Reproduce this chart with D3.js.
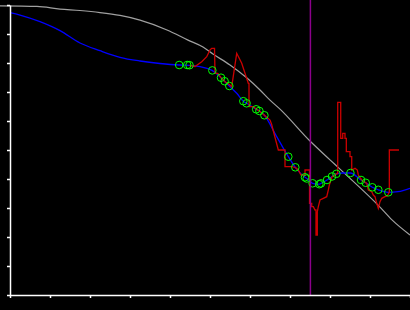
<!DOCTYPE html>
<html>
<head>
<meta charset="utf-8">
<script src="https://cdn.jsdelivr.net/npm/d3@7"></script>
<style>
  body { margin: 0; background: #000; }
  svg { display: block; }
</style>
</head>
<body>
<div id="chart"></div>
<script>
// reference curve (gray)
var grayX = [-0.25, 0.675, 1.25, 1.75, 2.25, 2.75, 3.25, 3.925, 4.45, 4.825, 5.075, 5.5, 5.925, 6.25, 6.5, 6.75, 7.5, 8.0, 8.25, 9.25, 9.55, 10.0]
var grayY = [9.97, 9.95, 9.86, 9.81, 9.74, 9.64, 9.48, 9.14, 8.79, 8.55, 8.31, 7.93, 7.48, 7.07, 6.72, 6.41, 5.31, 4.66, 4.34, 3.03, 2.59, 2.07]

// smoothed series (blue)
var blueX = [0, 0.25, 0.75, 1.25, 1.75, 2.25, 2.75, 3.25, 3.75, 4.225, 4.475, 4.75, 5.05, 5.275, 5.375, 5.483, 5.668, 5.833, 5.915, 6.16, 6.235, 6.36, 6.65, 6.958, 7.133, 7.375, 7.418, 7.565, 7.733, 7.773, 7.925, 8.05, 8.16, 8.325, 8.51, 8.775, 8.893, 9.058, 9.208, 9.458, 9.7, 10.0]
var blueY = [9.734, 9.655, 9.424, 9.114, 8.69, 8.424, 8.197, 8.069, 7.983, 7.931, 7.921, 7.872, 7.745, 7.493, 7.355, 7.207, 6.955, 6.683, 6.61, 6.403, 6.345, 6.197, 5.503, 4.769, 4.403, 4.059, 4.017, 3.852, 3.821, 3.848, 3.966, 4.086, 4.179, 4.207, 4.207, 3.966, 3.869, 3.714, 3.628, 3.541, 3.562, 3.679]

// raw series (red)
var redX = [4.488, 4.625, 4.793, 4.918, 5.0, 5.043, 5.113, 5.125, 5.2, 5.275, 5.375, 5.483, 5.543, 5.668, 5.793, 5.875, 5.958, 5.975, 5.975, 6.083, 6.16, 6.235, 6.36, 6.5, 6.538, 6.708, 6.875, 6.875, 7.043, 7.133, 7.208, 7.275, 7.375, 7.375, 7.488, 7.488, 7.543, 7.543, 7.583, 7.625, 7.65, 7.65, 7.683, 7.683, 7.708, 7.75, 7.833, 7.918, 7.958, 7.983, 8.05, 8.16, 8.193, 8.193, 8.268, 8.268, 8.318, 8.318, 8.375, 8.375, 8.408, 8.408, 8.5, 8.5, 8.543, 8.543, 8.625, 8.683, 8.708, 8.793, 8.918, 8.958, 9.043, 9.083, 9.125, 9.168, 9.208, 9.25, 9.293, 9.375, 9.433, 9.483, 9.483, 9.725]
var redY = [7.921, 7.879, 8.045, 8.217, 8.448, 8.507, 8.507, 7.655, 7.638, 7.493, 7.355, 7.259, 7.183, 8.334, 7.99, 7.645, 7.3, 7.3, 6.493, 6.493, 6.403, 6.345, 6.197, 6.034, 5.897, 5.0, 5.0, 4.424, 4.424, 4.397, 4.31, 4.138, 4.138, 4.31, 4.31, 3.162, 3.162, 3.045, 3.045, 2.931, 2.931, 2.069, 2.069, 2.872, 3.045, 3.276, 3.334, 3.39, 3.621, 3.793, 4.069, 4.179, 4.19, 6.645, 6.645, 5.403, 5.403, 5.576, 5.576, 5.403, 5.403, 4.941, 4.941, 4.769, 4.769, 4.31, 4.369, 4.31, 4.138, 3.966, 3.852, 3.621, 3.562, 3.448, 3.39, 3.162, 2.99, 3.217, 3.334, 3.39, 3.414, 3.552, 5.0, 5.0]

// detected points (green circles)
var ptX = [4.23, 4.43, 4.488, 5.058, 5.275, 5.365, 5.483, 5.833, 5.915, 6.155, 6.235, 6.36, 6.958, 7.133, 7.375, 7.418, 7.565, 7.733, 7.773, 7.925, 8.05, 8.16, 8.51, 8.775, 8.893, 9.058, 9.208, 9.458]
var ptY = [7.931, 7.931, 7.924, 7.745, 7.493, 7.372, 7.207, 6.683, 6.61, 6.403, 6.345, 6.197, 4.769, 4.403, 4.059, 4.017, 3.852, 3.821, 3.848, 3.966, 4.086, 4.179, 4.207, 3.966, 3.869, 3.714, 3.628, 3.541]

var markerX = 7.51

var width = 410, height = 310

var x = d3.scaleLinear().domain([0, 10]).range([10, 410])
var y = d3.scaleLinear().domain([0, 10]).range([295, 5])

var svg = d3.select("#chart").append("svg")
    .attr("width", width)
    .attr("height", height)

svg.append("rect")
    .attr("width", width)
    .attr("height", height)
    .attr("fill", "#000")

function zip(xs, ys) {
    return xs.map(function(d, i) { return [d, ys[i]] })
}

var smooth = d3.line()
    .x(function(d) { return x(d[0]) })
    .y(function(d) { return y(d[1]) })
    .curve(d3.curveMonotoneX)

var straight = d3.line()
    .x(function(d) { return x(d[0]) })
    .y(function(d) { return y(d[1]) })

svg.append("path")
    .attr("d", smooth(zip(grayX, grayY)))
    .attr("fill", "none")
    .attr("stroke", "#a0a0a0")
    .attr("stroke-width", 1.2)

svg.append("path")
    .attr("d", smooth(zip(blueX, blueY)))
    .attr("fill", "none")
    .attr("stroke", "#0000ff")
    .attr("stroke-width", 1.3)

svg.append("path")
    .attr("d", straight(zip(redX, redY)))
    .attr("fill", "none")
    .attr("stroke", "#cc0000")
    .attr("stroke-width", 1.3)

svg.selectAll(".pt").data(zip(ptX, ptY))
    .enter().append("circle")
    .attr("class", "pt")
    .attr("cx", function(d) { return x(d[0]) })
    .attr("cy", function(d) { return y(d[1]) })
    .attr("r", 3.8)
    .attr("fill", "none")
    .attr("stroke", "#00ff00")
    .attr("stroke-width", 1)

svg.append("line")
    .attr("x1", x(markerX)).attr("x2", x(markerX))
    .attr("y1", 0).attr("y2", 295)
    .attr("stroke", "#8b008b")
    .attr("stroke-width", 1.5)

var yAxis = svg.append("g")
    .attr("transform", "translate(10,0)")
    .call(d3.axisLeft(y).ticks(10).tickSize(3).tickSizeOuter(0).tickFormat(""))

var xAxis = svg.append("g")
    .attr("transform", "translate(0,295)")
    .call(d3.axisBottom(x).ticks(10).tickSize(3).tickSizeOuter(0).tickFormat(""))

svg.selectAll(".domain, .tick line")
    .attr("stroke", "#fff")
    .attr("stroke-width", 1.5)
</script>
</body>
</html>
